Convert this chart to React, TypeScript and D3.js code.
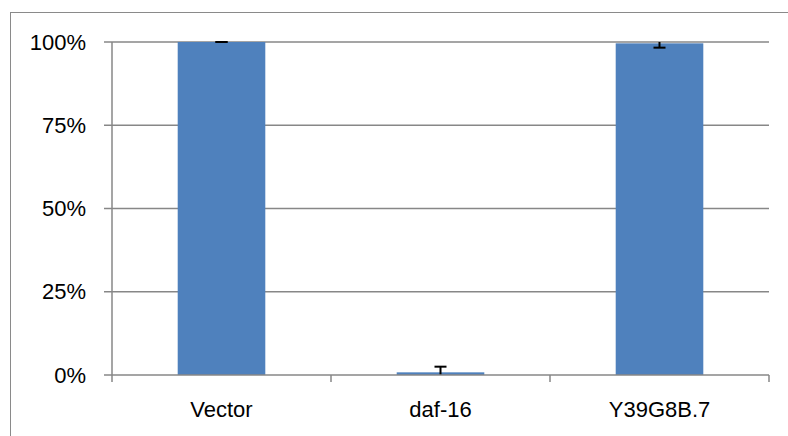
import React from "react";
import * as d3 from "d3";

const categories = ["Vector", "daf-16", "Y39G8B.7"];
const values = [1.0, 0.008, 0.996];
const errors = [0.0, 0.017, 0.013];
const yTicks = [0, 0.25, 0.5, 0.75, 1.0];

export default function App() {
  const W = 788, H = 436;
  const left = 112, right = 769, top = 42, bottom = 375;
  const x = d3.scaleBand().domain(categories).range([left, right]).paddingInner(0.6).paddingOuter(0.3);
  const xb = d3.scaleBand().domain(categories).range([left, right]);
  const y = d3.scaleLinear().domain([0, 1]).range([bottom, top]).clamp(true);
  const fmt = d3.format(".0%");
  const grid = "#878787";
  const font = "'Liberation Sans', Arial, sans-serif";
  const fs = 22;
  return (
    <svg width={W} height={H} style={{ position: "absolute", left: 0, top: 0, background: "#fff" }}>
      <rect x={10.5} y={12.5} width={800} height={450} fill="#fff" stroke="#8a8a8a" strokeWidth={1} />
      {yTicks.map((t) => (
        <g key={t}>
          {t > 0 && <line x1={left} x2={right} y1={y(t)} y2={y(t)} stroke={grid} strokeWidth={1.5} />}
          <line x1={104} x2={left} y1={y(t)} y2={y(t)} stroke={grid} strokeWidth={1.5} />
          <text x={86} y={y(t)} dy="0.35em" textAnchor="end" fontFamily={font} fontSize={fs} fill="#000">{fmt(t)}</text>
        </g>
      ))}
      {categories.map((c, i) => {
        const v = values[i], e = errors[i];
        const cx = x(c)! + x.bandwidth() / 2;
        const hi = v + e, lo = v - e;
        return (
          <g key={c}>
            <rect x={x(c)} y={y(v)} width={x.bandwidth()} height={y(0) - y(v)} fill="#4F81BD" />
            <g stroke="#000" strokeWidth={2}>
              {e > 0 && <line x1={cx} x2={cx} y1={y(hi)} y2={y(lo)} />}
              {hi <= 1 && <line x1={cx - 6} x2={cx + 6} y1={y(hi)} y2={y(hi)} />}
              {lo >= 0 && <line x1={cx - 6} x2={cx + 6} y1={y(lo)} y2={y(lo)} />}
            </g>
            <text x={xb(c)! + xb.bandwidth() / 2} y={417} textAnchor="middle" fontFamily={font} fontSize={fs} fill="#000">{c}</text>
          </g>
        );
      })}
      <line x1={left} x2={left} y1={top} y2={bottom} stroke={grid} strokeWidth={1.5} />
      <line x1={left} x2={right} y1={bottom} y2={bottom} stroke={grid} strokeWidth={1.5} />
      {[...categories.map((c) => xb(c)!), right].map((p, i) => (
        <line key={i} x1={p} x2={p} y1={bottom} y2={bottom + 7} stroke={grid} strokeWidth={1.5} />
      ))}
    </svg>
  );
}
